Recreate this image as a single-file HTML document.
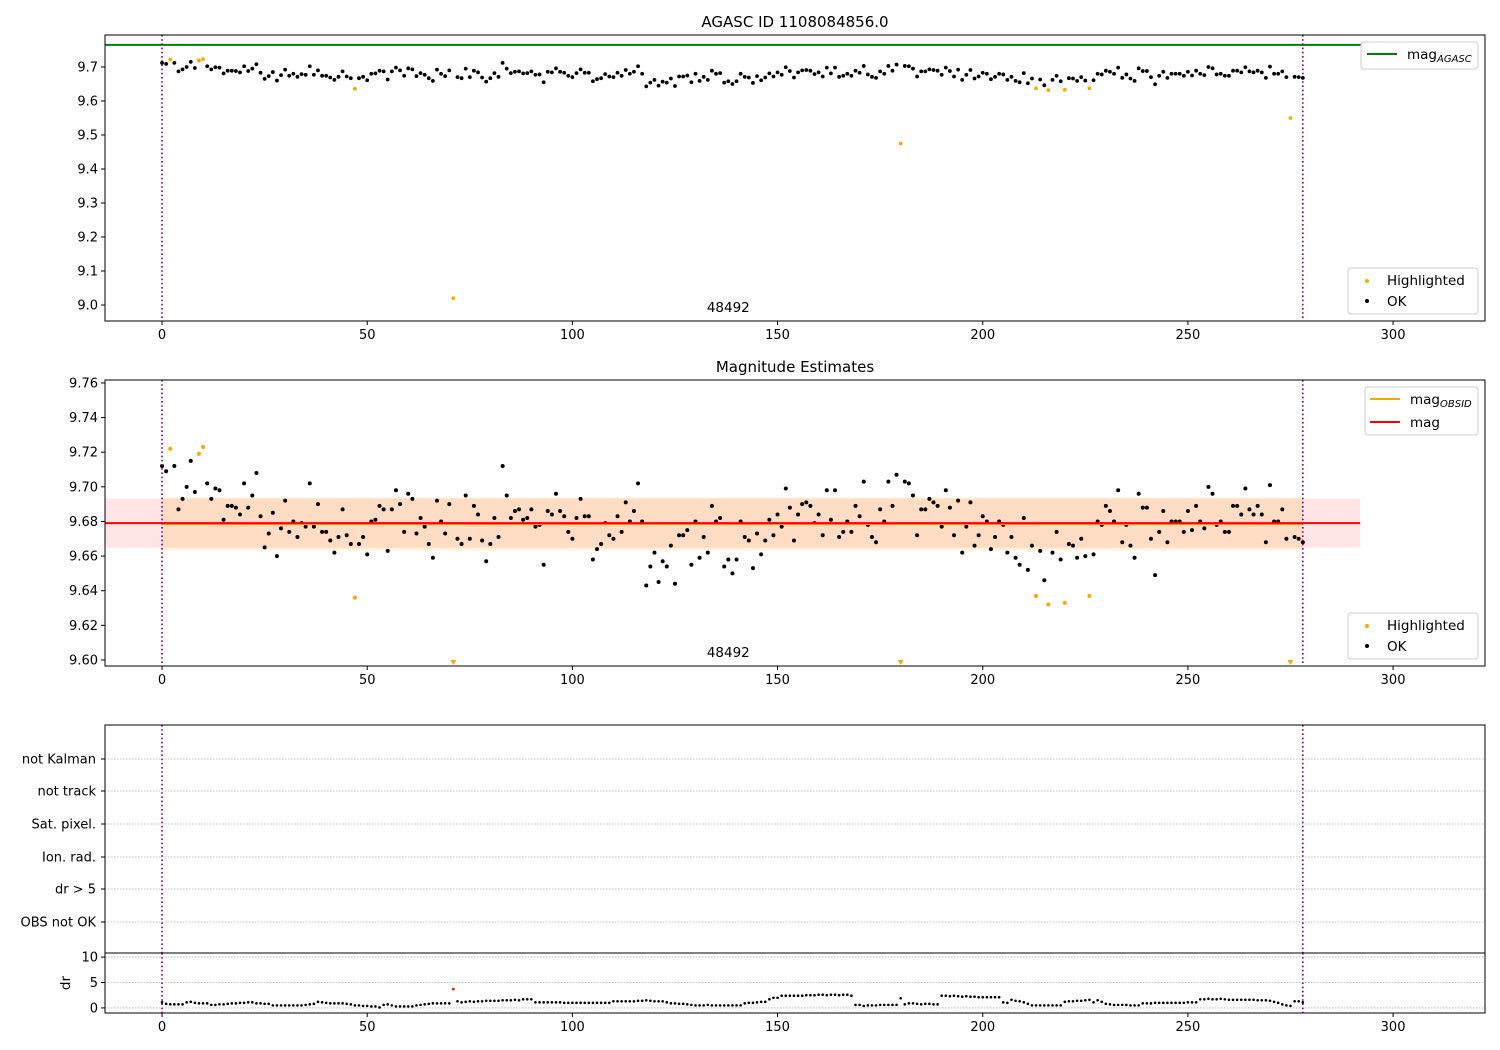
<!DOCTYPE html>
<html><head><meta charset="utf-8">
<style>
html,body{margin:0;padding:0;background:#fff;}
svg{display:block;font-family:"DejaVu Sans","Liberation Sans",sans-serif;}
</style></head>
<body>
<svg id="chart" width="1500" height="1050" viewBox="0 0 1500 1050" xmlns="http://www.w3.org/2000/svg">
<rect width="1500" height="1050" fill="#fff"/>
<text x="795" y="27" text-anchor="middle" font-size="15">AGASC ID 1108084856.0</text>
<text x="795" y="372" text-anchor="middle" font-size="15">Magnitude Estimates</text>
<g id="p1"></g>
<g id="p2"></g>
<g id="p3"></g>
<g id="p4"></g>
</svg>
<script>
const mags = [9.712,9.709,9.722,9.712,9.687,9.693,9.700,9.715,9.697,9.719,
9.723,9.702,9.693,9.699,9.698,9.681,9.689,9.689,9.688,9.684,
9.702,9.688,9.695,9.708,9.683,9.665,9.673,9.685,9.660,9.676,
9.692,9.674,9.680,9.671,9.679,9.677,9.702,9.677,9.690,9.674,
9.674,9.669,9.662,9.671,9.687,9.672,9.667,9.636,9.667,9.671,
9.661,9.680,9.681,9.689,9.687,9.663,9.687,9.698,9.690,9.674,
9.696,9.693,9.673,9.682,9.677,9.667,9.659,9.692,9.680,9.673,
9.690,9.02,9.670,9.667,9.695,9.670,9.689,9.684,9.669,9.657,
9.667,9.682,9.671,9.712,9.695,9.682,9.686,9.687,9.681,9.682,
9.687,9.677,9.678,9.655,9.686,9.684,9.696,9.686,9.683,9.674,
9.670,9.682,9.693,9.683,9.683,9.658,9.664,9.667,9.679,9.672,
9.670,9.683,9.674,9.691,9.680,9.686,9.702,9.680,9.643,9.654,
9.662,9.645,9.657,9.654,9.666,9.644,9.672,9.672,9.675,9.655,
9.680,9.659,9.671,9.662,9.689,9.680,9.682,9.654,9.658,9.650,
9.658,9.680,9.671,9.669,9.653,9.673,9.661,9.669,9.681,9.672,
9.684,9.677,9.699,9.688,9.669,9.684,9.690,9.691,9.689,9.679,
9.684,9.672,9.698,9.681,9.698,9.671,9.674,9.680,9.674,9.689,
9.683,9.703,9.678,9.671,9.668,9.687,9.680,9.703,9.689,9.707,
9.475,9.703,9.702,9.695,9.672,9.687,9.687,9.693,9.691,9.689,
9.677,9.698,9.688,9.672,9.692,9.662,9.677,9.691,9.666,9.672,
9.683,9.680,9.664,9.671,9.680,9.678,9.662,9.671,9.659,9.655,
9.682,9.652,9.666,9.637,9.663,9.646,9.632,9.662,9.674,9.658,
9.633,9.667,9.666,9.659,9.670,9.660,9.637,9.661,9.680,9.678,
9.689,9.686,9.680,9.698,9.668,9.678,9.666,9.659,9.696,9.688,
9.688,9.670,9.649,9.674,9.686,9.668,9.680,9.680,9.680,9.674,
9.686,9.675,9.689,9.680,9.676,9.700,9.696,9.678,9.680,9.674,
9.674,9.689,9.689,9.684,9.699,9.687,9.684,9.689,9.684,9.668,
9.701,9.680,9.680,9.687,9.670,9.55,9.671,9.670,9.668];
const highlighted = [2,9,10,47,71,180,213,216,220,226,275];
const drValues = [1.1,0.8,0.7,0.7,0.7,0.7,1.1,1.2,1.0,0.9,
0.9,0.9,0.6,0.6,0.7,0.7,0.8,0.9,0.9,1.0,
1.0,1.1,1.1,0.9,0.9,0.8,0.8,0.5,0.5,0.5,
0.5,0.5,0.5,0.5,0.5,0.6,0.7,0.8,1.2,1.1,
1.0,0.9,0.9,0.9,0.9,0.8,0.7,0.5,0.5,0.4,
0.4,0.3,0.3,0.1,0.6,0.7,0.5,0.3,0.3,0.3,
0.3,0.3,0.5,0.6,0.7,0.8,0.9,0.9,0.9,0.9,
0.9,3.7,1.3,1.1,1.2,1.3,1.2,1.3,1.3,1.4,
1.4,1.4,1.4,1.5,1.5,1.5,1.6,1.5,1.7,1.7,
1.7,1.1,1.1,1.1,1.1,1.1,1.1,1.1,1.0,1.0,
1.0,1.0,1.0,1.0,1.0,1.0,1.0,1.0,1.0,1.0,
1.3,1.3,1.3,1.3,1.3,1.3,1.4,1.4,1.5,1.4,
1.3,1.3,1.3,1.1,0.9,0.9,0.8,0.8,0.7,0.6,
0.5,0.5,0.5,0.6,0.5,0.5,0.5,0.5,0.5,0.5,
0.5,0.5,0.9,1.0,1.0,1.1,1.2,1.2,1.7,2.0,
2.0,2.4,2.4,2.4,2.4,2.4,2.4,2.5,2.5,2.5,
2.6,2.6,2.5,2.6,2.6,2.5,2.6,2.6,2.4,0.6,
0.6,0.4,0.5,0.5,0.5,0.6,0.6,0.6,0.6,0.6,
1.9,0.7,0.9,0.9,0.8,0.7,0.8,0.8,0.7,0.7,
2.4,2.4,2.3,2.4,2.3,2.2,2.3,2.2,2.2,2.1,
2.1,2.1,2.1,2.1,2.1,1.1,1.0,1.6,1.4,1.3,
1.1,0.8,0.5,0.5,0.5,0.5,0.5,0.5,0.5,0.5,
1.2,1.3,1.3,1.4,1.4,1.5,1.6,1.1,1.5,1.2,
0.8,0.7,0.6,0.6,0.6,0.6,0.5,0.5,0.5,0.9,
0.9,0.9,1.0,1.0,1.0,1.0,1.0,1.0,1.0,1.0,
1.1,1.1,1.1,1.7,1.7,1.8,1.7,1.7,1.8,1.7,
1.6,1.6,1.6,1.6,1.6,1.6,1.6,1.5,1.5,1.5,
1.4,1.2,1.0,0.7,0.5,0.4,1.3,1.3,1.1];
const drRed = [71];
const xTicks = [0,50,100,150,200,250,300];
const p1Ticks = [9.0,9.1,9.2,9.3,9.4,9.5,9.6,9.7];
const p2Ticks = [9.60,9.62,9.64,9.66,9.68,9.70,9.72,9.74,9.76];
const drTicks = [0,5,10];
const flagLabels = ["not Kalman","not track","Sat. pixel.","Ion. rad.","dr > 5","OBS not OK"];
const magAgasc = 9.765;
const magMean = 9.679;
const magObsid = 9.6785;
const magStd = 0.0142;
const obsStdLo = 9.6632, obsStdHi = 9.6938;
const obsStart = 0, obsEnd = 278;
const obsidLabel = "48492";

const NS = "http://www.w3.org/2000/svg";
const L = 105, R = 1485, XMIN = -13.9, XMAX = 322.4;
function xs(v){ return L + (v - XMIN) / (XMAX - XMIN) * (R - L); }
function mk(parent, tag, attrs, text){
  const e = document.createElementNS(NS, tag);
  for (const k in attrs) e.setAttribute(k, attrs[k]);
  if (text !== undefined) e.textContent = text;
  parent.appendChild(e);
  return e;
}
function yScale(top, bot, vmax, vmin){ return v => top + (vmax - v) / (vmax - vmin) * (bot - top); }

function frame(g, top, bot, opts){
  const r = mk(g, 'rect', {x:L, y:top, width:R-L, height:bot-top, fill:'none', stroke:'#000', 'stroke-width':1});
  
  
  if (opts.xticks){
    xTicks.forEach(t => {
      const x = xs(t);
      mk(g, 'line', {x1:x, x2:x, y1:bot, y2:bot+4, stroke:'#000'});
      const tx = mk(g, 'text', {x:x, y:bot+18, 'text-anchor':'middle', 'font-size':13}, String(t));
      
      
    });
  }
}
function vlines(g, top, bot){
  [obsStart, obsEnd].forEach(v => {
    const l = mk(g, 'line', {x1:xs(v), x2:xs(v), y1:top, y2:bot, stroke:'#800080', 'stroke-width':1.6, 'stroke-dasharray':'1.6,2.6'});
    
    
  });
}
function yticks(g, ticks, ys, fmt){
  ticks.forEach(t => {
    const y = ys(t);
    mk(g, 'line', {x1:L-4, x2:L, y1:y, y2:y, stroke:'#000'});
    const tx = mk(g, 'text', {x:L-7, y:y+4.5, 'text-anchor':'end', 'font-size':13}, fmt(t));
    
    
  });
}
function dot(g, x, y, r, c){ return mk(g, 'circle', {cx:x, cy:y, r:r, fill:c}); }
function legendHL(g, x, y){
  const box = mk(g, 'rect', {x:x, y:y, width:130, height:46, rx:3, fill:'#fff', 'fill-opacity':0.85, stroke:'#ccc'});
  
  
  dot(g, x+19, y+13, 2, 'orange');
  const t1 = mk(g, 'text', {x:x+39, y:y+17, 'font-size':13.5}, 'Highlighted');
  
  
  dot(g, x+19, y+33, 2, '#000');
  const t2 = mk(g, 'text', {x:x+39, y:y+38, 'font-size':13.5}, 'OK');
  
  
}

// Panel 1
(function(){
  const g = document.getElementById('p1');
  const top = 35, bot = 321;
  const ys = yScale(top, bot, 9.794, 8.953);
  const gl = mk(g, 'line', {x1:L, x2:1361, y1:ys(magAgasc), y2:ys(magAgasc), stroke:'green', 'stroke-width':2});
  
  
  vlines(g, top, bot);
  mags.forEach((m, i) => {
    const hl = highlighted.includes(i);
    const c = dot(g, xs(i), ys(m), 1.9, hl ? 'orange' : '#000');
    
    
  });
  const ob = mk(g, 'text', {x:xs(138), y:312, 'text-anchor':'middle', 'font-size':13.5}, obsidLabel);
  
  
  frame(g, top, bot, {xticks:true});
  yticks(g, p1Ticks, ys, t => t.toFixed(1));
  const lb = mk(g, 'rect', {x:1361, y:42, width:117, height:27, rx:3, fill:'#fff', 'fill-opacity':0.85, stroke:'#ccc'});
  
  
  mk(g, 'line', {x1:1367, x2:1397, y1:54, y2:54, stroke:'green', 'stroke-width':2});
  const lt = mk(g, 'text', {x:1407, y:59, 'font-size':13.5}, 'mag');
  
  
  mk(lt, 'tspan', {'font-size':10, 'font-style':'italic', dy:3}, 'AGASC');
  legendHL(g, 1348, 268);
})();

// Panel 2
(function(){
  const g = document.getElementById('p2');
  const top = 380, bot = 666;
  const YMIN = 9.5965, YMAX = 9.7617;
  const ys = yScale(top, bot, YMAX, YMIN);
  const b1 = mk(g, 'rect', {x:L, y:ys(magMean+magStd), width:xs(292)-L, height:ys(magMean-magStd)-ys(magMean+magStd), fill:'#ff0000', 'fill-opacity':0.1});
  
  
  const b2 = mk(g, 'rect', {x:xs(obsStart), y:ys(obsStdHi), width:xs(obsEnd)-xs(obsStart), height:ys(obsStdLo)-ys(obsStdHi), fill:'#ffa500', 'fill-opacity':0.15});
  
  
  mags.forEach((m, i) => {
    const hl = highlighted.includes(i);
    const col = hl ? 'orange' : '#000';
    if (m < YMIN){
      const x = xs(i), y = bot - 4;
      const p = mk(g, 'path', {d:`M${x-3},${y-2}L${x+3},${y-2}L${x},${y+3}Z`, fill:col});
      
      
    } else {
      const c = dot(g, xs(i), ys(m), 2, col);
      
      
    }
  });
  const ol = mk(g, 'line', {x1:xs(obsStart), x2:xs(obsEnd), y1:ys(magObsid), y2:ys(magObsid), stroke:'orange', 'stroke-width':2});
  
  
  const rl = mk(g, 'line', {x1:L, x2:xs(292), y1:ys(magMean), y2:ys(magMean), stroke:'red', 'stroke-width':2});
  
  
  vlines(g, top, bot);
  const ob = mk(g, 'text', {x:xs(138), y:657, 'text-anchor':'middle', 'font-size':13.5}, obsidLabel);
  
  
  frame(g, top, bot, {xticks:true});
  yticks(g, p2Ticks, ys, t => t.toFixed(2));
  const lb = mk(g, 'rect', {x:1365, y:387, width:113, height:48, rx:3, fill:'#fff', 'fill-opacity':0.85, stroke:'#ccc'});
  
  
  mk(g, 'line', {x1:1370, x2:1400, y1:399, y2:399, stroke:'orange', 'stroke-width':2});
  const t1 = mk(g, 'text', {x:1410, y:404, 'font-size':13.5}, 'mag');
  
  
  mk(t1, 'tspan', {'font-size':10, 'font-style':'italic', dy:3}, 'OBSID');
  mk(g, 'line', {x1:1370, x2:1400, y1:422, y2:422, stroke:'red', 'stroke-width':2});
  const t2 = mk(g, 'text', {x:1410, y:427, 'font-size':13.5}, 'mag');
  
  
  legendHL(g, 1348, 613);
})();

// Panel 3 flags
(function(){
  const g = document.getElementById('p3');
  const top = 725, bot = 953;
  const fy = [759, 791, 824, 857, 889, 922];
  flagLabels.forEach((lab, k) => {
    const y = fy[k];
    const gl = mk(g, 'line', {x1:L, x2:R, y1:y, y2:y, stroke:'#b0b0b0', 'stroke-width':0.8, 'stroke-dasharray':'1.5,1.5'});
    
    
    mk(g, 'line', {x1:L-4, x2:L, y1:y, y2:y, stroke:'#000'});
    const t = mk(g, 'text', {x:L-9, y:y+4.5, 'text-anchor':'end', 'font-size':13}, lab);
    
    
  });
  vlines(g, top, bot);
  frame(g, top, bot, {xticks:false});
})();

// Panel 4 dr
(function(){
  const g = document.getElementById('p4');
  const top = 953, bot = 1013;
  const ys = yScale(top, bot, 10.8, -1);
  drTicks.forEach(t => {
    const gl = mk(g, 'line', {x1:L, x2:R, y1:ys(t), y2:ys(t), stroke:'#b0b0b0', 'stroke-width':0.8, 'stroke-dasharray':'1.5,1.5'});
    
    
  });
  vlines(g, top, bot);
  drValues.forEach((d, i) => {
    const c = dot(g, xs(i), ys(d), 1.3, drRed.includes(i) ? 'red' : '#000');
    
    
  });
  frame(g, top, bot, {xticks:true});
  yticks(g, drTicks, ys, t => String(t));
  const yl = mk(g, 'text', {x:70, y:983, 'text-anchor':'middle', 'font-size':13.5, transform:'rotate(-90 70 983)'}, 'dr');
  
  
})();
</script>
</body></html>
